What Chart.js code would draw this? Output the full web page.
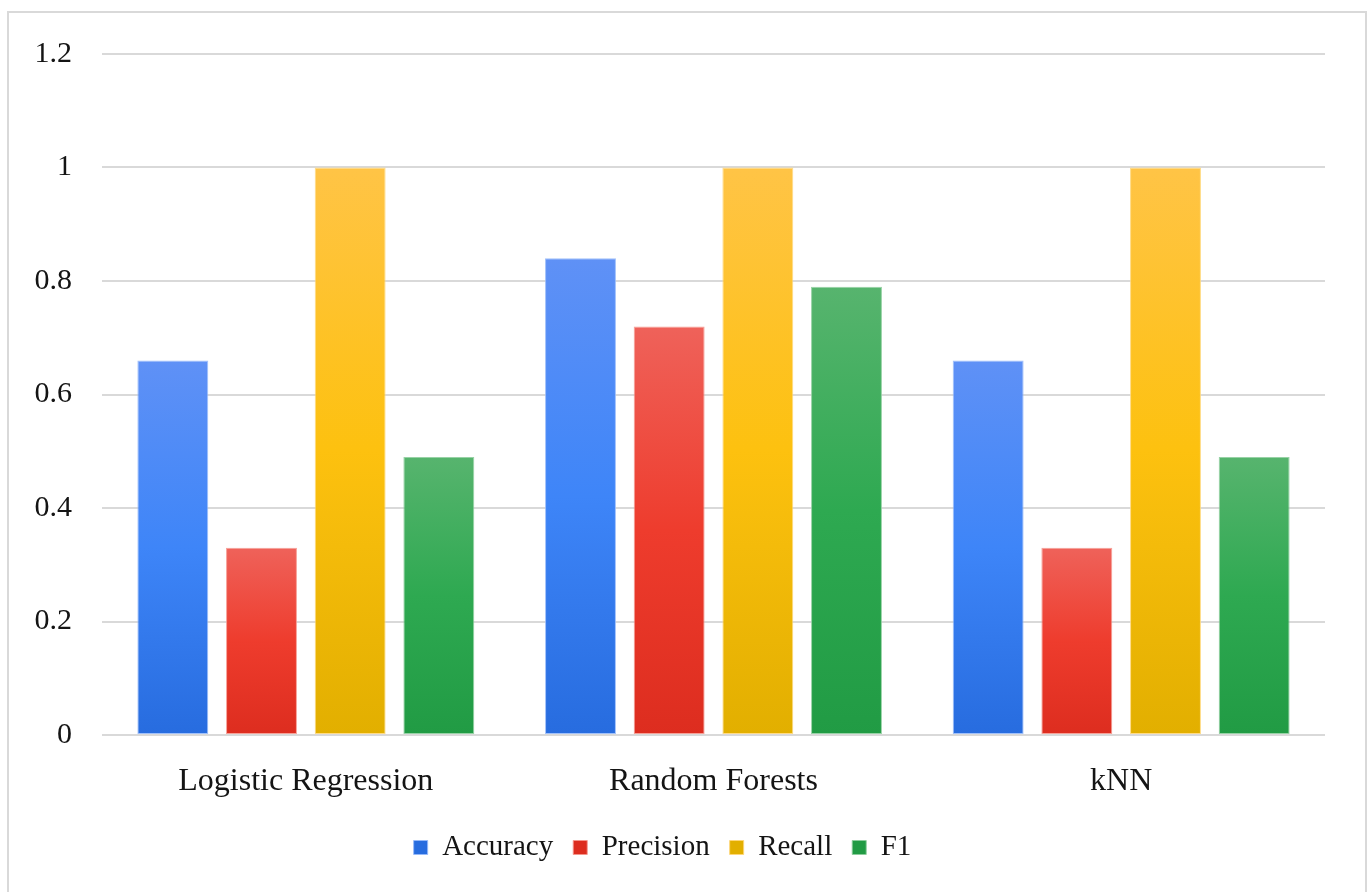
<!DOCTYPE html>
<html>
<head>
<meta charset="utf-8">
<script src="https://cdn.jsdelivr.net/npm/chart.js@4.4.1/dist/chart.umd.min.js"></script>
<style>
  html, body { margin: 0; padding: 0; background: #fff; overflow: hidden; }
  #frame { position: absolute; left: 7px; top: 11px; width: 1360px; height: 900px;
           border: 2px solid #d9d9d9; box-sizing: border-box; }
  #wrap { position: absolute; left: 0; top: 0; width: 1368px; height: 892px; }
</style>
</head>
<body>
<div id="frame"></div>
<div id="wrap"><canvas id="c"></canvas></div>
<script>
// Models compared and their scores per metric
const categories = ['Logistic Regression', 'Random Forests', 'kNN'];
const accuracy  = [0.66, 0.84, 0.66];
const precision = [0.33, 0.72, 0.33];
const recall    = [1.00, 1.00, 1.00];
const f1        = [0.49, 0.79, 0.49];
const yTickValues = [0, 0.2, 0.4, 0.6, 0.8, 1, 1.2];
const yTickLabels = ['0', '0.2', '0.4', '0.6', '0.8', '1', '1.2'];

const SERIF = "'Liberation Serif', 'Times New Roman', serif";
const TEXT = '#141414';

// Vertical gradient per bar: lighter top, saturated middle, darker base
function barFill(stops, solid) {
  return (ctx) => {
    if (ctx.type !== 'data') return solid;
    const chart = ctx.chart;
    const y = chart.scales && chart.scales.y;
    if (!chart.chartArea || !y) return solid;
    const top = y.getPixelForValue(ctx.raw);
    const base = y.getPixelForValue(0);
    if (!isFinite(top) || !isFinite(base) || base - top < 1) return solid;
    const g = chart.ctx.createLinearGradient(0, top, 0, base);
    g.addColorStop(0, stops[0]);
    g.addColorStop(0.5, stops[1]);
    g.addColorStop(1, stops[2]);
    return g;
  };
}

function series(label, data, stops, solid, edge) {
  return {
    label, data,
    backgroundColor: barFill(stops, solid),
    borderColor: edge,
    borderWidth: 1,
    borderSkipped: false,
    categoryPercentage: 0.87,
    barPercentage: 0.8
  };
}

new Chart(document.getElementById('c'), {
  type: 'bar',
  data: {
    labels: categories,
    datasets: [
      series('Accuracy',  accuracy,  ['#5f91f6', '#3e85f8', '#276cdf'], '#3a7ef0', 'rgba(150,185,250,0.9)'),
      series('Precision', precision, ['#ef625a', '#ee3c2d', '#dd2d1f'], '#e8352a', 'rgba(245,150,140,0.9)'),
      series('Recall',    recall,    ['#ffc446', '#fdc10f', '#e2af00'], '#f5ba00', 'rgba(255,215,120,0.9)'),
      series('F1',        f1,        ['#57b46e', '#2ea951', '#219b44'], '#2a9f48', 'rgba(140,205,155,0.9)')
    ]
  },
  options: {
    responsive: true,
    maintainAspectRatio: false,
    animation: false,
    layout: { padding: { left: 0, right: 43, top: 54, bottom: 20 } },
    scales: {
      x: {
        grid: { display: false },
        border: { display: false },
        ticks: { color: TEXT, font: { family: SERIF, size: 32 }, padding: 19, maxRotation: 0 },
        afterFit(scale) { scale.height = 78; }
      },
      y: {
        min: 0,
        max: 1.2,
        afterBuildTicks(scale) { scale.ticks = yTickValues.map(v => ({ value: v })); },
        grid: { color: '#d9d9d9', lineWidth: 2, drawTicks: false, tickLength: 0 },
        border: { display: false },
        ticks: {
          color: TEXT,
          font: { family: SERIF, size: 30 },
          padding: 30,
          callback(value, index) { return yTickLabels[index]; }
        },
        afterFit(scale) { scale.width = 102; }
      }
    },
    plugins: {
      tooltip: { enabled: false },
      legend: {
        position: 'bottom',
        labels: {
          color: TEXT,
          font: { family: SERIF, size: 29 },
          boxWidth: 14,
          boxHeight: 14,
          padding: 20
        }
      }
    }
  }
});
</script>
</body>
</html>
